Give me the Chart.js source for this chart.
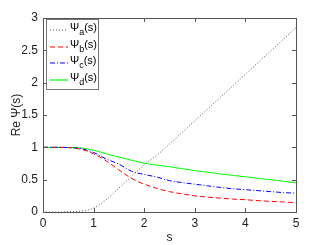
<!DOCTYPE html>
<html><head><meta charset="utf-8">
<script src="https://cdn.jsdelivr.net/npm/chart.js@4/dist/chart.umd.min.js"></script>
<style>html,body{margin:0;padding:0;background:#fff}#wrap{width:327px;height:245px}</style>
</head><body><div id="wrap"><canvas id="c" width="327" height="245"></canvas></div>
<script>
const sValues = [0,0.25,0.5,0.75,1,1.25,1.5,1.75,2,2.25,2.5,2.75,3,3.25,3.5,3.75,4,4.25,4.5,4.75,5];
const psiA = [0,0,0.003,0.015,0.06,0.19,0.37,0.55,0.73,0.88,1.05,1.23,1.41,1.59,1.77,1.95,2.13,2.31,2.49,2.67,2.85];
const psiB = [1,1,0.995,0.97,0.9,0.79,0.65,0.52,0.43,0.365,0.315,0.28,0.25,0.23,0.215,0.2,0.19,0.175,0.165,0.155,0.145];
const psiC = [1,1,0.997,0.98,0.92,0.82,0.74,0.63,0.58,0.54,0.485,0.455,0.43,0.405,0.38,0.36,0.345,0.33,0.315,0.3,0.29];
const psiD = [1,1,0.998,0.99,0.955,0.9,0.85,0.8,0.755,0.725,0.7,0.67,0.64,0.615,0.59,0.565,0.545,0.52,0.5,0.475,0.45];
const xTicks = [0,1,2,3,4,5];
const yTicks = [0,0.5,1,1.5,2,2.5,3];
const seriesNames = [["Ψ","a","(s)"],["Ψ","b","(s)"],["Ψ","c","(s)"],["Ψ","d","(s)"]];
const xLabel = "s";
const yLabel = "Re Ψ(s)";

const FONT = "Liberation Sans, Arial, sans-serif";
const pts = arr => arr.map((v,i)=>({x:sValues[i], y:v}));
const styles = [
  {color:'#555555', dash:[1,2]},
  {color:'#ff0000', dash:[5,3]},
  {color:'#0000ff', dash:[5,2,1,2]},
  {color:'#00ff00', dash:[]}
];
const allData = [psiA, psiB, psiC, psiD];

const boxPlugin = {
  id:'box',
  afterDatasetsDraw(chart){
    const {ctx, chartArea:a, scales} = chart;
    ctx.save();
    ctx.setLineDash([]);
    ctx.strokeStyle = '#555'; ctx.lineWidth = 1;
    ctx.strokeRect(Math.round(a.left)+0.5, Math.round(a.top)+0.5, Math.round(a.right-a.left), Math.round(a.bottom-a.top));
    ctx.beginPath();
    const tl = 4;
    xTicks.forEach(v=>{
      const px = Math.round(scales.x.getPixelForValue(v))+0.5;
      ctx.moveTo(px, a.bottom); ctx.lineTo(px, a.bottom-tl);
      ctx.moveTo(px, a.top); ctx.lineTo(px, a.top+tl);
    });
    yTicks.forEach(v=>{
      const py = Math.round(scales.y.getPixelForValue(v))+0.5;
      ctx.moveTo(a.left, py); ctx.lineTo(a.left+tl, py);
      ctx.moveTo(a.right, py); ctx.lineTo(a.right-tl, py);
    });
    ctx.stroke();
    // legend
    const lx = Math.round(a.left)+3, ly = Math.round(a.top)+1, lw = 52, lh = 70;
    ctx.fillStyle = '#fff';
    ctx.fillRect(lx, ly, lw, lh);
    ctx.strokeStyle = '#777';
    ctx.strokeRect(lx+0.5, ly+0.5, lw, lh);
    for (let i=0;i<seriesNames.length;i++){
      const n = seriesNames[i];
      const cy = Math.round(ly + 11 + i*16.7);
      ctx.save();
      ctx.lineWidth = 1.2;
      ctx.setLineDash(styles[i].dash);
      ctx.strokeStyle = styles[i].color;
      ctx.beginPath();
      ctx.moveTo(lx+4, cy); ctx.lineTo(lx+22, cy);
      ctx.stroke();
      ctx.restore();
      ctx.fillStyle = '#000';
      ctx.textBaseline = 'alphabetic';
      ctx.textAlign = 'left';
      ctx.font = '11px ' + FONT;
      let tx = lx+24;
      ctx.fillText(n[0], tx, cy+1);
      tx += ctx.measureText(n[0]).width;
      ctx.font = '9px ' + FONT;
      ctx.fillText(n[1], tx, cy+5);
      tx += ctx.measureText(n[1]).width;
      ctx.font = '11px ' + FONT;
      ctx.fillText(n[2], tx, cy+1);
    }
    ctx.restore();
  }
};

new Chart(document.getElementById('c'), {
  type:'line',
  data:{datasets: allData.map((d,i)=>({
    label: seriesNames[i].join(''),
    data: pts(d),
    borderColor: styles[i].color,
    borderDash: styles[i].dash,
    borderWidth: 1,
    pointRadius: 0,
    fill:false,
    cubicInterpolationMode:'monotone'
  }))},
  options:{
    responsive:false, animation:false,
    layout:{padding:{left:0,right:31,top:18,bottom:0}},
    plugins:{legend:{display:false}, tooltip:{enabled:false}},
    scales:{
      x:{type:'linear', min:0, max:5,
        afterBuildTicks(s){ s.ticks = xTicks.map(v=>({value:v})); },
        afterFit(s){ s.height = 33; },
        grid:{display:false, drawTicks:false},
        border:{display:false},
        ticks:{color:'#222', font:{size:12, family:FONT}, padding:4, maxRotation:0, callback:v=>String(v)},
        title:{display:true, text:xLabel, color:'#222', font:{size:12, family:FONT}, padding:{top:2,bottom:0}}
      },
      y:{type:'linear', min:0, max:3,
        afterBuildTicks(s){ s.ticks = yTicks.map(v=>({value:v})); },
        afterFit(s){ s.width = 43; },
        grid:{display:false, drawTicks:false},
        border:{display:false},
        ticks:{color:'#222', font:{size:12, family:FONT}, padding:5, callback:v=>String(v)},
        title:{display:true, text:yLabel, color:'#222', font:{size:12, family:FONT}, padding:{top:9,bottom:0}}
      }
    }
  },
  plugins:[boxPlugin]
});
</script></body></html>
